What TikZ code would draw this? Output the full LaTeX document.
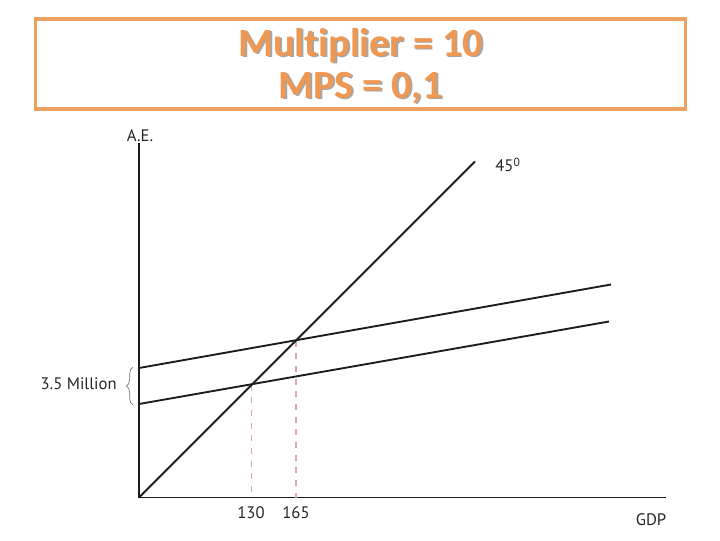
\documentclass[tikz,border=0pt]{standalone}
\usepackage{fontspec}
\setmainfont{PT Sans}
\newfontfamily\titlefont[Ligatures=NoCommon]{Carlito}
\usetikzlibrary{decorations.pathreplacing}
\definecolor{ttlorange}{RGB}{240,152,82}
\definecolor{boxorange}{RGB}{238,162,98}
\definecolor{dashpink}{RGB}{214,168,168}
\definecolor{linegray}{RGB}{28,28,28}
\begin{document}
\begin{tikzpicture}[x=0.75pt,y=-0.75pt,
  curve/.style={line width=1.4pt,draw=linegray},
  axisline/.style={line width=1.4pt,draw=linegray},
  guide/.style={line width=0.8pt,draw=dashpink,dash pattern=on 4.5pt off 5pt},
  lbl/.style={font=\fontsize{12.5}{14}\selectfont,text=black!85,inner sep=0pt},
  ttl/.style={font=\titlefont\bfseries\fontsize{30}{31.5}\selectfont,align=center,inner sep=0pt}]
\useasboundingbox (0,0) rectangle (720,540);
% title box
\node[draw=boxorange,line width=2.4pt,minimum width=488pt,minimum height=67.5pt,inner sep=0pt] (box) at (360.5,64) {};
\node[ttl,text=black!35] (shadow) at (362.3,67.5) {Multiplier = 10\\MPS = 0,1};
\node[ttl,text=ttlorange] (title) at (360.5,66) {Multiplier = 10\\MPS = 0,1};
% coordinates
\coordinate (O) at (139,497.5);
\coordinate (Ytop) at (139,143);
\coordinate (Xend) at (666,497.5);
\coordinate (D45) at (475,161.5);
\coordinate (U0) at (139,368);
\coordinate (U1) at (611,284.5);
\coordinate (L0) at (139,404);
\coordinate (L1) at (609,321.5);
\coordinate (I1) at (251.7,384.8);
\coordinate (I2) at (296,340.5);
\coordinate (I1b) at (251.7,497.5);
\coordinate (I2b) at (296,497.5);
% axes
\draw[axisline] (Ytop) -- (O) -- (Xend);
% guides
\draw[guide] (I1) -- (I1b);
\draw[guide] (I2) -- (I2b);
% lines
\draw[curve] (O) -- (D45);
\draw[curve] (U0) -- (U1);
\draw[curve] (L0) -- (L1);
% brace
\coordinate (B0) at (133,405);
\coordinate (B1) at (133,367);
\draw[line width=0.5pt,draw=black!55,decorate,decoration={brace,amplitude=5pt}] (B0) -- (B1);
% labels
\node[lbl,anchor=east] (m35) at (117,384) {3.5 Million};
\node[lbl] (ae) at (140,136) {A.E.};
\node[lbl] (d45) at (508,165) {45\textsuperscript{0}};
\node[lbl] (t130) at (251,513) {130};
\node[lbl] (t165) at (296,513) {165};
\node[lbl] (gdp) at (651,520) {GDP};
\end{tikzpicture}
\end{document}
